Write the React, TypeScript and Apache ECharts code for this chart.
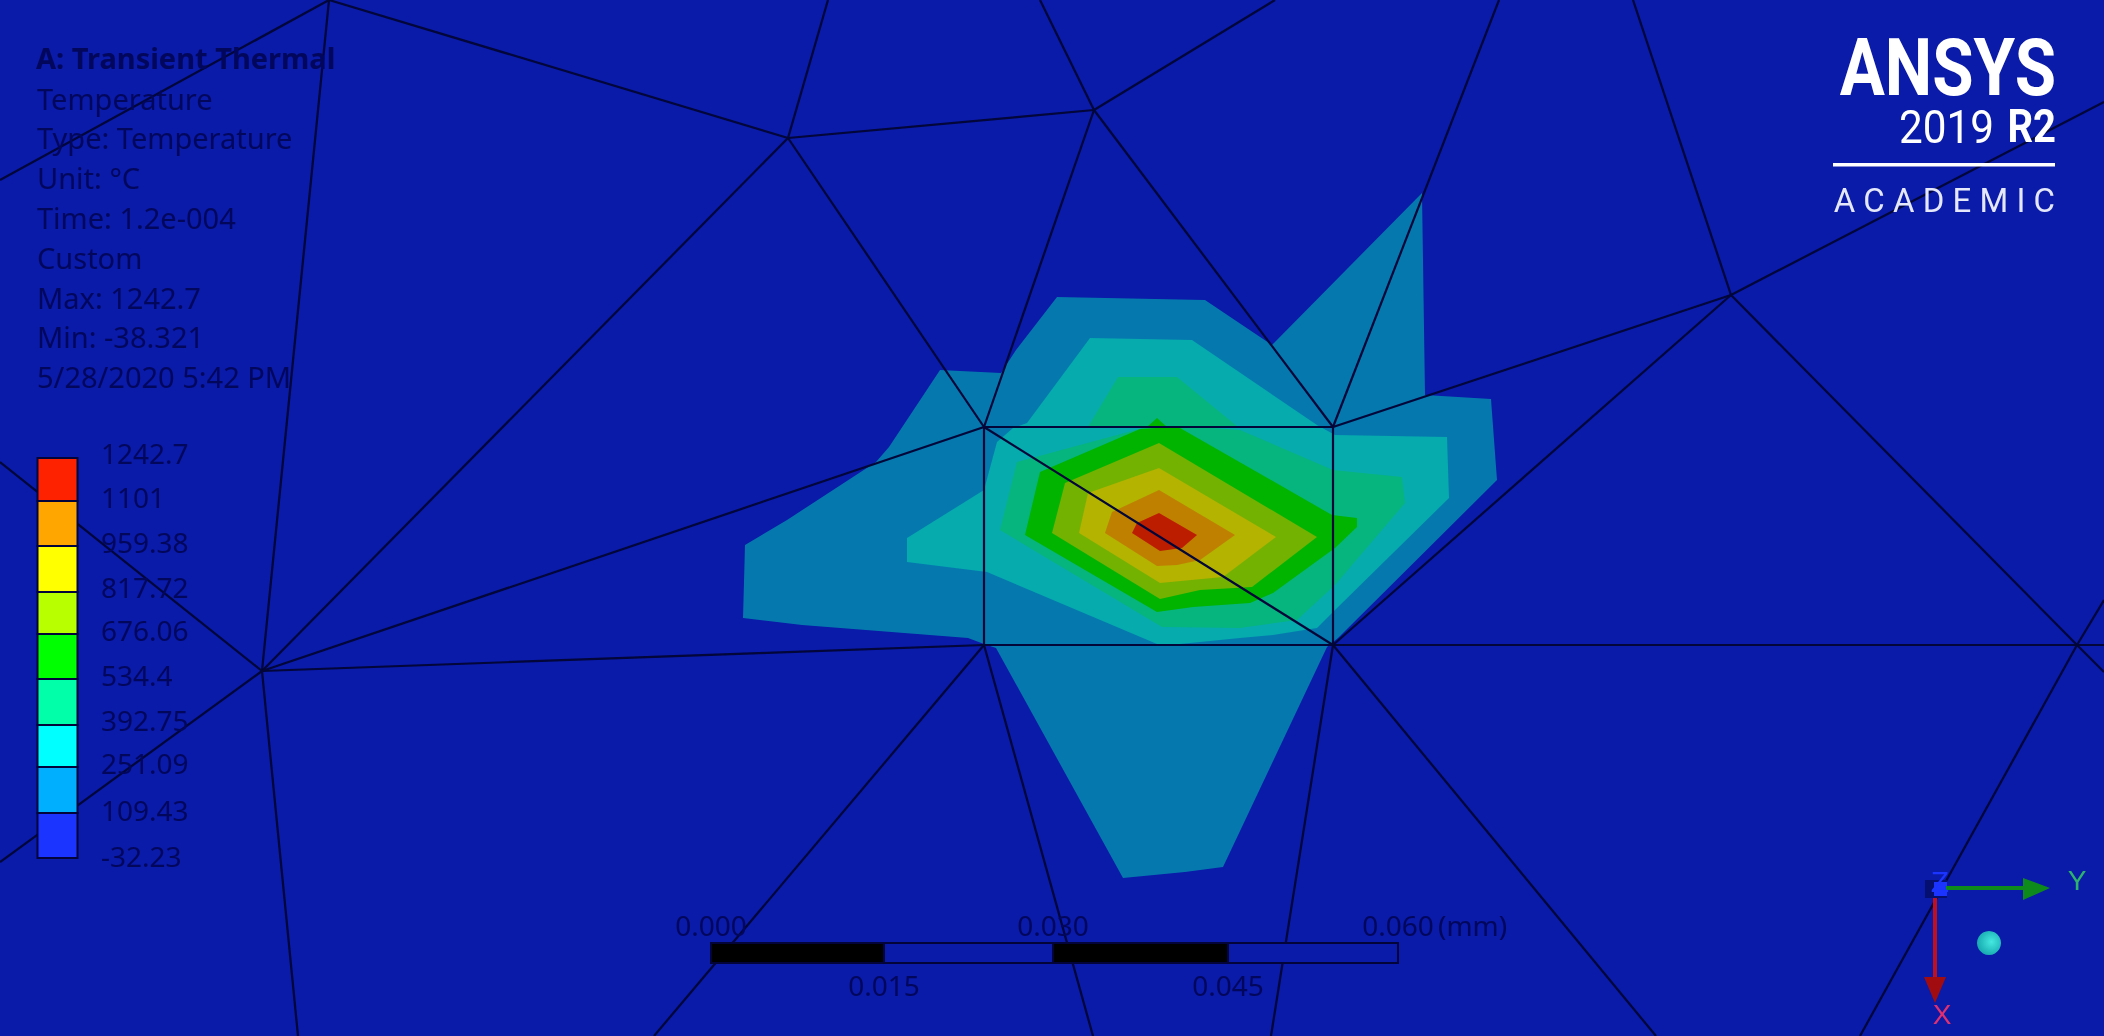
import React, { useEffect, useRef } from "react";
import * as echarts from "echarts";

type P = [number, number];

const WIDTH = 2104;
const HEIGHT = 1036;

// ---- Temperature bands ----
const bandColors = ["#0579ae", "#06abae", "#06b57d", "#00b400", "#73b200", "#b3b300", "#bf8000", "#bc1c00"];
const band1: P[] = [[1057,297],[1205,300],[1272,345],[1422,193],[1425,395],[1491,399],[1497,480],[1338,638],[1327,647],[1223,867],[1185,872],[1123,878],[996,648],[984,644],[968,638],[802,625],[743,618],[745,545],[787,520],[876,462],[889,447],[940,370],[1001,373],[1016,350]];
const band2: P[] = [[1090,338],[1192,340],[1317,425],[1335,435],[1447,437],[1449,498],[1335,610],[1317,628],[1273,635],[1240,638],[1180,644],[1157,644],[987,572],[907,562],[907,538],[984,490],[997,442],[1013,428],[1027,423]];
const band3Top: P[] = [[1088,427],[1118,377],[1177,377],[1238,427]];
const band3: P[] = [[1143,428],[1213,428],[1240,430],[1333,470],[1402,477],[1405,503],[1335,585],[1297,620],[1240,628],[1162,627],[1000,530],[1017,462]];
const band4Top: P[] = [[1147,427],[1157,418],[1167,427]];
const band4: P[] = [[1140,429],[1157,428],[1180,428],[1332,515],[1357,518],[1357,527],[1335,548],[1273,593],[1250,603],[1193,607],[1157,612],[1025,535],[1040,472]];
const band5: P[] = [[1159,443],[1317,537],[1252,587],[1200,590],[1160,599],[1052,533],[1065,483]];
const band6: P[] = [[1159,468],[1276,537],[1223,577],[1160,583],[1079,533],[1088,493]];
const band7: P[] = [[1159,490],[1235,535],[1200,560],[1177,565],[1157,566],[1105,533],[1112,512]];
const band8: P[] = [[1159,513],[1197,535],[1182,548],[1160,551],[1132,533],[1137,523]];
const bands: { level: number; points: P[] }[] = [
  { level: 0, points: band1 },
  { level: 1, points: band2 },
  { level: 2, points: band3Top },
  { level: 2, points: band3 },
  { level: 3, points: band4Top },
  { level: 3, points: band4 },
  { level: 4, points: band5 },
  { level: 5, points: band6 },
  { level: 6, points: band7 },
  { level: 7, points: band8 },
];

// ---- Mesh edges ----
const meshEdges: [P, P][] = [
  [[329,0],[788,138]],[[329,0],[262,671]],[[329,0],[0,180]],
  [[788,138],[1094,110]],[[788,138],[984,427]],[[788,138],[262,671]],[[788,138],[828,0]],
  [[1094,110],[984,427]],[[1094,110],[1333,427]],[[1094,110],[1275,0]],[[1094,110],[1040,0]],
  [[1333,427],[1499,0]],[[1333,427],[1731,295]],
  [[1731,295],[1633,0]],[[1731,295],[2104,102]],[[1731,295],[2077,645]],[[1731,295],[1333,645]],
  [[1333,645],[2104,645]],[[2077,645],[2104,600]],[[2077,645],[2104,672]],[[2077,645],[1860,1036]],
  [[1333,645],[1656,1036]],[[1333,645],[1271,1036]],
  [[984,645],[1093,1036]],[[984,645],[654,1036]],[[984,645],[262,671]],[[984,427],[262,671]],
  [[984,427],[1333,645]],[[984,427],[1333,427]],[[1333,427],[1333,645]],[[1333,645],[984,645]],[[984,645],[984,427]],
  [[262,671],[0,462]],[[262,671],[0,862]],[[262,671],[298,1036]],
];

// ---- Texts ----
const infoLines = ["Temperature", "Type: Temperature", "Unit: °C", "Time: 1.2e-004", "Custom", "Max: 1242.7", "Min: -38.321", "5/28/2020 5:42 PM"];
const infoTitle = "A: Transient Thermal";
const legendLabels = ["1242.7", "1101", "959.38", "817.72", "676.06", "534.4", "392.75", "251.09", "109.43", "-32.23"];
const legendLabelY = [453, 497, 542, 587, 630, 675, 720, 763, 810, 856];
const legendColors = ["#ff2200", "#ffa600", "#ffff00", "#b8ff00", "#00ff00", "#00ffa8", "#00ffff", "#00b0ff", "#1c34ff"];
const legendEdges = [458, 501, 546, 592, 634, 679, 725, 767, 813, 858];
const scaleTop = ["0.000", "0.030", "0.060"];
const scaleBottom = ["0.015", "0.045"];
const scaleEdges = [711, 884, 1053, 1228, 1398];

const BG = "#0a1aa9";
const INK = "#03075c";

function txt(text: string, x: number, y: number, size: number, opts: any = {}) {
  const align = opts.align ?? "left";
  return {
    type: "text",
    z: opts.z ?? 50,
    silent: true,
    x,
    y,
    scaleX: opts.scaleX ?? 1,
    style: {
      text,
      fill: opts.fill ?? INK,
      font: `${opts.weight ?? "normal"} ${size}px ${opts.family ?? '"Noto Sans"'}`,
      align,
      textAlign: align,
      verticalAlign: "middle",
      textVerticalAlign: "middle",
    },
  };
}

export default function App() {
  const ref = useRef<HTMLDivElement>(null);

  useEffect(() => {
    document.body.style.margin = "0";
    const chart = echarts.init(ref.current!, undefined, { renderer: "svg" });

    const graphics: any[] = [];
    // information block
    graphics.push(txt(infoTitle, 36, 57, 29, { weight: "bold" }));
    infoLines.forEach((t, i) => graphics.push(txt(t, 37, 98 + i * 39.8, 29)));

    // colour legend
    legendColors.forEach((c, i) => {
      graphics.push({
        type: "rect", z: 40, silent: true,
        shape: { x: 37.5, y: legendEdges[i], width: 40, height: legendEdges[i + 1] - legendEdges[i] },
        style: { fill: c, stroke: "#03053a", lineWidth: 2 },
      });
    });
    legendLabels.forEach((t, i) => graphics.push(txt(t, 101, legendLabelY[i], 28)));

    // scale bar
    for (let i = 0; i < scaleEdges.length - 1; i++) {
      graphics.push({
        type: "rect", z: 40, silent: true,
        shape: { x: scaleEdges[i], y: 943, width: scaleEdges[i + 1] - scaleEdges[i], height: 20 },
        style: { fill: i % 2 === 0 ? "#000000" : BG, stroke: "#03053a", lineWidth: 2 },
      });
    }
    scaleTop.forEach((t, i) => graphics.push(txt(t, scaleEdges[i * 2], 925, 28, { align: "center" })));
    scaleBottom.forEach((t, i) => graphics.push(txt(t, scaleEdges[i * 2 + 1], 985, 28, { align: "center" })));
    graphics.push(txt("(mm)", 1438, 925, 28));

    // logo
    const roboto = "Roboto";
    graphics.push(txt("ANSYS", 2056, 67, 80, { align: "right", weight: "bold", family: roboto, fill: "#ffffff", scaleX: 0.84 }));
    graphics.push(txt("2019", 1994, 127, 46, { align: "right", family: roboto, fill: "#ffffff", scaleX: 0.92 }));
    graphics.push(txt("R2", 2056, 127, 46, { align: "right", weight: "bold", family: roboto, fill: "#ffffff", scaleX: 0.87 }));
    graphics.push({ type: "rect", z: 50, silent: true, shape: { x: 1833, y: 163, width: 222, height: 3.5 }, style: { fill: "#ffffff" } });
    graphics.push(txt("A C A D E M I C", 2055, 200, 34, { align: "right", family: roboto, fill: "#e4e8fa", scaleX: 0.97 }));

    // triad
    graphics.push({ type: "rect", z: 40, silent: true, shape: { x: 1925, y: 880, width: 22, height: 18 }, style: { fill: "#050f70" } });
    graphics.push({ type: "rect", z: 41, silent: true, shape: { x: 1934, y: 882, width: 13, height: 14 }, style: { fill: "#1c34ff" } });
    graphics.push(txt("Z", 1940, 881, 30, { align: "center", fill: "#1c34ff", family: '"Liberation Sans"', z: 42 }));
    graphics.push({ type: "line", z: 41, silent: true, shape: { x1: 1946, y1: 888, x2: 2025, y2: 888 }, style: { stroke: "#0e8a1c", lineWidth: 4 } });
    graphics.push({ type: "polygon", z: 41, silent: true, shape: { points: [[2023, 878], [2023, 900], [2050, 888]] }, style: { fill: "#0e8a1c" } });
    graphics.push(txt("Y", 2077, 880, 28, { align: "center", fill: "#2db36b", family: '"Liberation Sans"' }));
    graphics.push({ type: "line", z: 41, silent: true, shape: { x1: 1935, y1: 898, x2: 1935, y2: 979 }, style: { stroke: "#c01020", lineWidth: 4 } });
    graphics.push({ type: "polygon", z: 41, silent: true, shape: { points: [[1924, 977], [1946, 977], [1935, 1003]] }, style: { fill: "#a00c10" } });
    graphics.push(txt("X", 1942, 1014, 28, { align: "center", fill: "#e0306f", family: '"Liberation Sans"' }));
    graphics.push({
      type: "circle", z: 41, silent: true, shape: { cx: 1989, cy: 943, r: 12 },
      style: {
        fill: new echarts.graphic.RadialGradient(0.6, 0.45, 0.7, [
          { offset: 0, color: "#45e8e0" },
          { offset: 1, color: "#0f9fa8" },
        ]),
      },
    });

    chart.setOption({
      animation: false,
      backgroundColor: BG,
      grid: { left: 0, right: 0, top: 0, bottom: 0 },
      xAxis: { type: "value", min: 0, max: WIDTH, show: false },
      yAxis: { type: "value", min: 0, max: HEIGHT, inverse: true, show: false },
      tooltip: { show: false },
      graphic: { elements: graphics },
      series: [
        {
          type: "custom",
          coordinateSystem: "cartesian2d",
          silent: true,
          z: 2,
          data: bands.map((b, i) => [b.points[0][0], b.points[0][1], i]),
          renderItem: (params: any, api: any) => {
            const b = bands[params.dataIndex];
            return {
              type: "polygon",
              shape: { points: b.points.map((p) => api.coord(p)) },
              style: { fill: bandColors[b.level] },
            };
          },
        },
        {
          type: "custom",
          coordinateSystem: "cartesian2d",
          silent: true,
          z: 3,
          data: meshEdges.map((e) => [e[0][0], e[0][1], e[1][0], e[1][1]]),
          renderItem: (params: any, api: any) => {
            const e = meshEdges[params.dataIndex];
            const a = api.coord(e[0]);
            const b = api.coord(e[1]);
            return {
              type: "line",
              shape: { x1: a[0], y1: a[1], x2: b[0], y2: b[1] },
              style: { stroke: "#020638", lineWidth: 2.2 },
            };
          },
        },
      ],
    });
    return () => chart.dispose();
  }, []);

  return <div ref={ref} style={{ width: WIDTH, height: HEIGHT, filter: "blur(0.6px)" }} />;
}
